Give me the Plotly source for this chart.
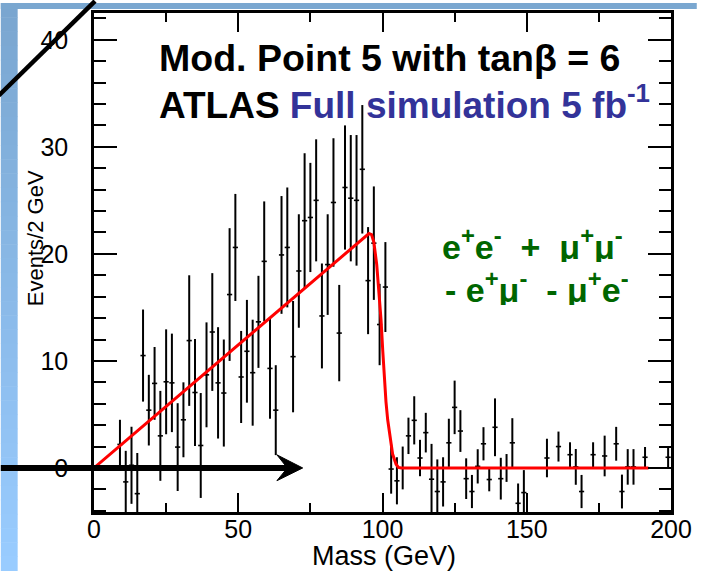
import plotly.graph_objects as go

# ---------------- data ----------------
mass = [1, 3, 5, 7, 9, 11, 13, 15, 17, 19, 21, 23, 25, 27, 29, 31, 33, 35, 37, 39,
        41, 43, 45, 47, 49, 51, 53, 55, 57, 59, 61, 63, 65, 67, 69, 71, 73, 75, 77, 79,
        81, 83, 85, 87, 89, 91, 93, 95, 97, 99, 101, 103, 105, 107, 109, 111, 113, 115, 117, 119,
        121, 123, 125, 127, 129, 131, 133, 135, 137, 139, 141, 143, 145, 147, 149, 151, 153, 155, 157, 159,
        161, 163, 165, 167, 169, 171, 173, 175, 177, 179, 181, 183, 185, 187, 189, 191, 193, 195, 197, 199]
events = [0, 0, 0, 0, 2.2, -1.3, 0.25, -2.4, 10.5, 5.4, 7.9, 3.0, 8.05, 7.95, 1.95, 4.5, 11.9, 7.05, 2.1, 8.7,
          12.7, 7.95, 7.0, 16.2, 20.6, 8.5, 10.9, 8.9, 13.65, 19.3, 9.3, 5.4, 19.9, 20.6, 10.4, 18.4, 23.1, 23.4, 25.0, 14.2,
          19.0, 24.8, 12.6, 26.2, 25.2, 25.0, 27.9, 17.5, 21.0, 13.4, 16.9, -0.1, -1.2, 0.0, 3.0, 4.45, 0.93, 3.3, -1.05, -2.2,
          -1.3, 2.35, 5.66, 3.45, -1.0, -2.2, 0.15, 2.26, -1.08, 3.8, -1.0, 0.0, 2.35, -3.3, -2.3, 0, 0, 0, 0.93, 0,
          2.0, 0, 1.24, 0.1, -2.2, 0, 1.24, 0, 1.12, 0, 2.26, -2.2, 0.1, 0.1, 0, 1.0, 0, 0, 0, 1.0]
errors = [0, 0, 0, 0, 2.3, 2.9, 3.6, 3.8, 4.3, 3.3, 3.4, 4.2, 4.9, 4.6, 4.1, 3.5, 6.1, 5.0, 4.9, 4.9,
          5.5, 5.2, 5.0, 6.2, 5.0, 4.3, 4.8, 4.95, 4.3, 5.6, 4.7, 4.2, 5.5, 5.6, 5.2, 5.3, 6.3, 5.1, 5.7, 4.9,
          4.7, 6.0, 4.5, 5.8, 5.9, 6.1, 6.0, 5.0, 5.3, 3.8, 4.2, 2.3, 2.2, 2.0, 1.7, 2.25, 1.7, 1.85, 3.3, 3.0,
          2.3, 2.25, 2.5, 1.95, 1.9, 1.55, 1.6, 1.55, 1.1, 2.7, 1.95, 1.3, 2.3, 1.85, 2.1, 0, 0, 0, 1.8, 0,
          1.4, 0, 1.16, 1.67, 1.55, 0, 1.16, 0, 1.9, 0, 1.58, 1.58, 1.66, 1.66, 0, 0.96, 0, 0, 0, 0.95]

fit_mass = [0, 95.3, 96.2, 97.0, 98.0, 98.9, 99.5, 100.1, 100.6, 101.2, 101.8, 102.4, 103.5, 104.7, 105.5, 106.5, 192.2]
fit_events = [0, 21.9, 21.8, 21.1, 19.0, 16.2, 13.8, 10.9, 8.4, 6.2, 4.5, 3.2, 1.3, 0.35, 0.05, 0, 0]

x_ticks = [0, 50, 100, 150, 200]
y_ticks = [0, 10, 20, 30, 40]

# ---------------- layout helpers ----------------
W, H = 702, 571
L, R, T, B = 94, 26, 10, 59
PW = W - L - R
PH = H - T - B


def px(x):
    return (x - L) / PW


def py(y):
    return (H - B - y) / PH


FONT = "Arial, Liberation Sans, Helvetica, sans-serif"

fig = go.Figure()

fig.add_trace(go.Scatter(
    x=mass, y=events, mode="markers",
    marker=dict(size=0.1, color="black"),
    error_y=dict(type="data", array=errors, visible=True, color="black", thickness=2, width=0),
    error_x=dict(type="constant", value=0.9, visible=True, color="black", thickness=1.6, width=0),
    showlegend=False, hoverinfo="skip",
))

fig.add_trace(go.Scatter(
    x=fit_mass, y=fit_events, mode="lines",
    line=dict(color="#ff0000", width=3),
    showlegend=False, hoverinfo="skip",
))

shapes = []
# left gradient strip
n = 40
c0 = (122, 166, 208)
c1 = (153, 204, 255)
for i in range(n):
    t = i / (n - 1)
    col = "rgb(%d,%d,%d)" % tuple(round(a + (b - a) * t) for a, b in zip(c0, c1))
    y_top = H * i / n
    y_bot = H * (i + 1) / n + 0.5
    shapes.append(dict(type="rect", xref="paper", yref="paper", x0=px(0), x1=px(17),
                       y0=py(y_bot), y1=py(y_top), fillcolor=col, line=dict(width=0), layer="below"))
# top strip
shapes.append(dict(type="rect", xref="paper", yref="paper", x0=px(0), x1=px(W),
                   y0=py(6), y1=py(0), fillcolor="rgb(122,167,208)", line=dict(width=0), layer="below"))
# diagonal line
shapes.append(dict(type="line", xref="paper", yref="paper", x0=px(-2), y0=py(93), x1=px(95), y1=py(-2),
                   line=dict(color="black", width=4.5), layer="above"))
# arrow
ay = 467.7
shapes.append(dict(type="line", xref="paper", yref="paper", x0=px(0), y0=py(ay), x1=px(292), y1=py(ay),
                   line=dict(color="black", width=6), layer="above"))
head = "M %f %f L %f %f L %f %f L %f %f Z" % (
    px(304.5), py(ay), px(278.5), py(454.5), px(289), py(ay), px(278.5), py(480.5))
shapes.append(dict(type="path", xref="paper", yref="paper", path=head, fillcolor="black",
                   line=dict(color="black", width=1), layer="above"))

annotations = [
    dict(text="<b>Mod. Point 5 with tanβ = 6</b>", x=px(158), y=py(55), xref="paper", yref="paper",
         xanchor="left", yanchor="middle", showarrow=False, font=dict(family=FONT, size=37.5, color="black")),
    dict(text="<b>ATLAS <span style='color:#333399'>Full simulation 5 fb<sup>-1</sup></span></b>",
         x=px(158), y=py(100), xref="paper", yref="paper",
         xanchor="left", yanchor="middle", showarrow=False, font=dict(family=FONT, size=37, color="black")),
    dict(text="<b>e<sup>+</sup>e<sup>-</sup>&nbsp; +&nbsp;&nbsp;μ<sup>+</sup>μ<sup>-</sup></b>", x=px(443), y=py(242),
         xref="paper", yref="paper", xanchor="left", yanchor="middle", showarrow=False, height=36,
         font=dict(family=FONT, size=34, color="#006600")),
    dict(text="<b>- e<sup>+</sup>μ<sup>-</sup> &nbsp;- μ<sup>+</sup>e<sup>-</sup></b>", x=px(446), y=py(286),
         xref="paper", yref="paper", xanchor="left", yanchor="middle", showarrow=False, height=36,
         font=dict(family=FONT, size=34, color="#006600")),
    dict(text="Events/2 GeV", x=px(35), y=py(237), xref="paper", yref="paper", textangle=-90,
         xanchor="center", yanchor="middle", showarrow=False, font=dict(family=FONT, size=22, color="black")),
    dict(text="Mass (GeV)", x=px(387), y=py(556), xref="paper", yref="paper",
         xanchor="center", yanchor="middle", showarrow=False, font=dict(family=FONT, size=27, color="black")),
]

fig.update_layout(
    width=W, height=H,
    margin=dict(l=L, r=R, t=T, b=B, pad=0),
    paper_bgcolor="white", plot_bgcolor="white",
    shapes=shapes, annotations=annotations,
    xaxis=dict(range=[0, 200], tickmode="array", tickvals=x_ticks, ticktext=[str(v) for v in x_ticks],
               ticks="inside", ticklen=19, tickwidth=2, tickcolor="black",
               minor=dict(dtick=25, ticks="inside", ticklen=9, tickwidth=2, tickcolor="black"),
               showline=True, linecolor="black", linewidth=2.5, mirror="ticks",
               showgrid=False, zeroline=False,
               tickfont=dict(family=FONT, size=25, color="black"), ticklabelstandoff=-7),
    yaxis=dict(range=[-4.113, 42.5], tickmode="array", tickvals=y_ticks, ticktext=[str(v) for v in y_ticks],
               ticks="inside", ticklen=23, tickwidth=2, tickcolor="black",
               minor=dict(dtick=2, ticks="inside", ticklen=12, tickwidth=2, tickcolor="black"),
               showline=True, linecolor="black", linewidth=2.5, mirror="ticks",
               showgrid=False, zeroline=False,
               tickfont=dict(family=FONT, size=25, color="black"), ticklabelstandoff=18),
)

fig.write_html("out.html", config={"displayModeBar": False},
               post_script="document.body.style.margin='0';document.body.style.overflow='hidden';")
